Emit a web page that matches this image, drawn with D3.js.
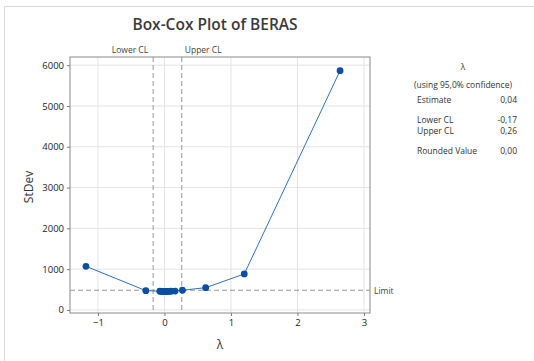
<!DOCTYPE html>
<html>
<head>
<meta charset="utf-8">
<script src="https://cdn.jsdelivr.net/npm/d3@7"></script>
<style>
  html, body { margin: 0; padding: 0; background: #fff; }
  svg { display: block; font-family: "Open Sans", "Noto Sans", sans-serif; }
</style>
</head>
<body>
<svg id="chart" width="534" height="361"></svg>
<script>
// Box-Cox search results: lambda vs. standard deviation of transformed data
const lambdas = [-1.18, -0.28, -0.07, -0.05, -0.03, -0.01, 0.01, 0.03, 0.05, 0.07, 0.1, 0.16, 0.27, 0.62, 1.2, 2.64];
const stdevs  = [1070, 473, 458, 456, 455, 455, 454, 454, 455, 456, 458, 462, 483, 546, 882, 5865];

const xTicks = [-1, 0, 1, 2, 3];
const yTicks = [0, 1000, 2000, 3000, 4000, 5000, 6000];

const lowerCL = -0.17, upperCL = 0.26, limit = 483;

const summaryRows = [
  { label: "Estimate", value: "0,04", gap: 0 },
  { label: "Lower CL", value: "-0,17", gap: 1 },
  { label: "Upper CL", value: "0,26", gap: 0 },
  { label: "Rounded Value", value: "0,00", gap: 1 }
];

const svg = d3.select("#chart");
const m = { left: 70, right: 370, top: 57, bottom: 313 };

const x = d3.scaleLinear().domain([-1.42, 3.09]).range([m.left, m.right]);
const y = d3.scaleLinear().domain([-75, 6200]).range([m.bottom, m.top]);

// outer frame
svg.append("path")
  .attr("d", `M4.5,361 V6.5 H534`)
  .attr("fill", "none").attr("stroke", "#d9d9d9");

// title
svg.append("text").attr("x", 215).attr("y", 30)
  .attr("text-anchor", "middle").attr("font-size", 15.5).attr("font-weight", 600)
  .attr("fill", "#3a3a3a").text("Box-Cox Plot of BERAS");

// gridlines
svg.append("g").selectAll("line").data(xTicks).join("line")
  .attr("x1", d => x(d)).attr("x2", d => x(d))
  .attr("y1", m.top).attr("y2", m.bottom)
  .attr("stroke", "#e3e3e3");
svg.append("g").selectAll("line").data(yTicks).join("line")
  .attr("x1", m.left).attr("x2", m.right)
  .attr("y1", d => y(d)).attr("y2", d => y(d))
  .attr("stroke", "#e3e3e3");

// axes
const xAxis = svg.append("g").attr("transform", `translate(0,${m.bottom})`)
  .call(d3.axisBottom(x).tickValues(xTicks).tickSize(3).tickPadding(3).tickFormat(d3.format("d")));
const yAxis = svg.append("g").attr("transform", `translate(${m.left},0)`)
  .call(d3.axisLeft(y).tickValues(yTicks).tickSize(3).tickPadding(3).tickFormat(d3.format("d")));
[xAxis, yAxis].forEach(g => {
  g.select(".domain").remove();
  g.selectAll(".tick line").attr("stroke", "#777");
  g.selectAll("text").attr("font-size", 9.5).attr("fill", "#222")
    .attr("font-family", "'Open Sans', 'Noto Sans', sans-serif");
});

// plot border
svg.append("rect")
  .attr("x", m.left).attr("y", m.top)
  .attr("width", m.right - m.left).attr("height", m.bottom - m.top)
  .attr("fill", "none").attr("stroke", "#8a8a8a");

// confidence limits
[lowerCL, upperCL].forEach(v => {
  svg.append("line")
    .attr("x1", x(v)).attr("x2", x(v)).attr("y1", m.top).attr("y2", m.bottom)
    .attr("stroke", "#999").attr("stroke-dasharray", "5,3");
});
svg.append("text").attr("x", x(lowerCL) - 5).attr("y", 53)
  .attr("text-anchor", "end").attr("font-size", 8.5).attr("fill", "#444").text("Lower CL");
svg.append("text").attr("x", x(upperCL) + 3).attr("y", 53)
  .attr("text-anchor", "start").attr("font-size", 8.5).attr("fill", "#444").text("Upper CL");

// limit line
svg.append("line")
  .attr("x1", m.left).attr("x2", m.right).attr("y1", y(limit)).attr("y2", y(limit))
  .attr("stroke", "#999").attr("stroke-dasharray", "5,3");
svg.append("text").attr("x", m.right + 4).attr("y", y(limit) + 3.5)
  .attr("font-size", 8.5).attr("fill", "#444").text("Limit");

// curve and points
const pts = lambdas.map((l, i) => ({ l, s: stdevs[i] }));
svg.append("path").datum(pts)
  .attr("d", d3.line().x(d => x(d.l)).y(d => y(d.s)))
  .attr("fill", "none").attr("stroke", "#2f6fc0").attr("stroke-width", 1);
svg.append("g").selectAll("circle").data(pts).join("circle")
  .attr("cx", d => x(d.l)).attr("cy", d => y(d.s)).attr("r", 3.4)
  .attr("fill", "#0b4ea2");

// axis titles
svg.append("text").attr("x", 220).attr("y", 349)
  .attr("text-anchor", "middle").attr("font-size", 12).attr("fill", "#333").text("λ");
svg.append("text")
  .attr("transform", `translate(33,${(m.top + m.bottom) / 2 + 2}) rotate(-90)`)
  .attr("text-anchor", "middle").attr("font-size", 12).attr("fill", "#333").text("StDev");

// summary table
const tx = 463;
svg.append("text").attr("x", tx).attr("y", 70).attr("text-anchor", "middle")
  .attr("font-size", 8.5).attr("fill", "#333").text("λ");
svg.append("text").attr("x", tx).attr("y", 88).attr("text-anchor", "middle")
  .attr("font-size", 8.5).attr("fill", "#333").text("(using 95,0% confidence)");
let ry = 103;
summaryRows.forEach((r, i) => {
  if (i > 0) ry += r.gap ? 20 : 11;
  svg.append("text").attr("x", 417).attr("y", ry)
    .attr("font-size", 8.5).attr("fill", "#333").text(r.label);
  svg.append("text").attr("x", 517).attr("y", ry).attr("text-anchor", "end")
    .attr("font-size", 8.5).attr("fill", "#333").text(r.value);
});
</script>
</body>
</html>
